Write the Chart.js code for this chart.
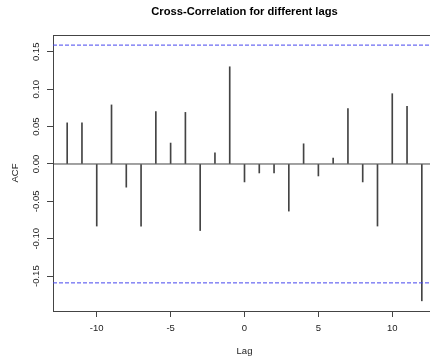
<!DOCTYPE html>
<html>
<head>
<meta charset="utf-8">
<script src="https://cdn.jsdelivr.net/npm/chart.js@4.4.1/dist/chart.umd.min.js"></script>
<style>
html,body{margin:0;padding:0;background:#fff;overflow:hidden}
#wrap{width:440px;height:360px}
</style>
</head>
<body>
<div id="wrap"><canvas id="ccf" width="440" height="360"></canvas></div>
<script>
// values
const lags=[-12,-11,-10,-9,-8,-7,-6,-5,-4,-3,-2,-1,0,1,2,3,4,5,6,7,8,9,10,11,12];
const acf=[0.055,0.055,-0.083,0.079,-0.031,-0.083,0.070,0.028,0.069,-0.089,0.015,0.130,
           -0.024,-0.012,-0.012,-0.063,0.027,-0.016,0.008,0.074,-0.024,-0.083,0.094,0.077,-0.183];
const ciLimit=0.159;
const xTicks=[-10,-5,0,5,10];
const yTicks=[-0.15,-0.10,-0.05,0,0.05,0.10,0.15];
const xRange=[-12.96,12.96];
const yRange=[-0.1966,0.1725];
const chartTitle='Cross-Correlation for different lags';

const axisColor='#444', textColor='#222', ciColor='#4646ee';
const fs=9.5;
Chart.defaults.font.family="'Liberation Sans', Arial, sans-serif";
Chart.defaults.color=textColor;

// top border of the box + main title centred over the plot region
const frame={
  id:'frame',
  afterDraw(chart){
    const {ctx,chartArea:a}=chart;
    ctx.save();
    ctx.strokeStyle=axisColor; ctx.lineWidth=1;
    ctx.beginPath(); ctx.moveTo(a.left,Math.round(a.top)+0.5); ctx.lineTo(a.right,Math.round(a.top)+0.5); ctx.stroke();
    ctx.fillStyle='#000';
    ctx.font="bold 11.2px 'Liberation Sans', Arial, sans-serif";
    ctx.textAlign='center'; ctx.textBaseline='alphabetic';
    ctx.fillText(chartTitle,(a.left+a.right)/2,14.5);
    ctx.restore();
  }
};

const hLine=(y,color,dash)=>({type:'line',data:xRange.map(x=>({x,y})),borderColor:color,borderWidth:1,
  borderDash:dash,pointRadius:0,fill:false});

new Chart(document.getElementById('ccf'),{
  type:'bar',
  data:{datasets:[
    {type:'bar',data:lags.map((l,i)=>({x:l,y:acf[i]})),backgroundColor:'#444',barThickness:1,order:4},
    Object.assign(hLine(0,axisColor,[]),{order:3}),
    Object.assign(hLine(ciLimit,ciColor,[4,2]),{order:2}),
    Object.assign(hLine(-ciLimit,ciColor,[4,2]),{order:1})
  ]},
  options:{
    responsive:false,devicePixelRatio:1,animation:false,
    layout:{padding:{top:35,left:0,right:4,bottom:0}},
    plugins:{legend:{display:false},tooltip:{enabled:false},title:{display:false}},
    scales:{
      x:{type:'linear',min:xRange[0],max:xRange[1],offset:false,
        afterBuildTicks:s=>{s.ticks=xTicks.map(v=>({value:v}));},
        afterFit:s=>{s.height=49;},
        grid:{drawOnChartArea:false,offset:false,tickLength:6,color:axisColor},
        border:{color:axisColor},
        ticks:{font:{size:fs},padding:6,maxRotation:0,autoSkip:false,color:textColor},
        title:{display:true,text:'Lag',font:{size:fs},color:textColor,padding:{top:0,bottom:3}}},
      y:{min:yRange[0],max:yRange[1],
        afterBuildTicks:s=>{s.ticks=yTicks.map(v=>({value:v}));},
        afterFit:s=>{s.width=53;},
        grid:{drawOnChartArea:false,tickLength:6,color:axisColor},
        border:{color:axisColor},
        ticks:{minRotation:90,maxRotation:90,crossAlign:'center',padding:0,font:{size:fs},color:textColor,
          callback:v=>v.toFixed(2)},
        title:{display:true,text:'ACF',font:{size:fs},color:textColor,padding:{top:9.4,bottom:0}}}
    }
  },
  plugins:[frame]
});
</script>
</body>
</html>
